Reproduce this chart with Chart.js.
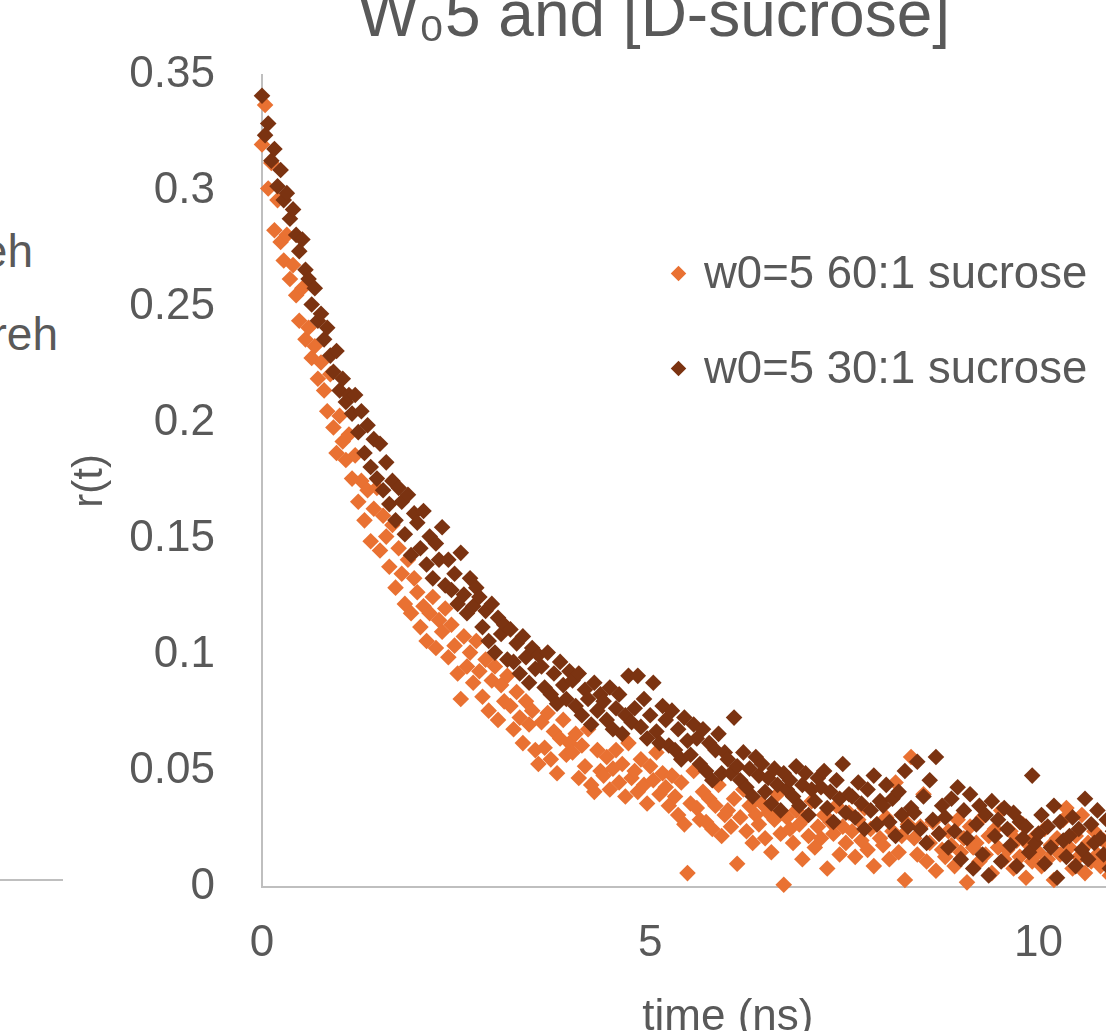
<!DOCTYPE html>
<html>
<head>
<meta charset="utf-8">
<title>W05 and [D-sucrose]</title>
<script src="https://cdn.jsdelivr.net/npm/chart.js@4/dist/chart.umd.min.js"></script>
<style>
    html, body { margin: 0; padding: 0; overflow: hidden; background: #fff; }
    #stage { position: relative; width: 1106px; height: 1031px; overflow: hidden; }
    #chartBox { position: absolute; left: 0; top: -40px; width: 1202px; height: 1110px; }
    .side { position: absolute; font: 46px "Liberation Sans", Arial, sans-serif; line-height: 46px; color: #595959; text-align: right; white-space: nowrap; }
    .sideAxis { position: absolute; left: 0; top: 879px; width: 63px; height: 2px; background: #BFBFBF; }
    #legend { position: absolute; left: 673px; top: 247px; font: 45.5px "Liberation Sans", Arial, sans-serif; color: #595959; }
    #legend .item { display: flex; align-items: center; height: 52px; margin-bottom: 43px; white-space: nowrap; }
    #legend .mark { width: 11px; height: 11px; transform: rotate(45deg); margin-right: 20px; }
</style>
</head>
<body>
<div id="stage">
    <!-- bits of the neighbouring chart that show at the left edge -->
    <div class="side" style="left:-200px; width:233px; top:228px;">eh</div>
    <div class="side" style="left:-200px; width:258px; top:311px;">reh</div>
    <div class="sideAxis"></div>

    <div id="chartBox"><canvas id="chart"></canvas></div>
    <div id="legend"></div>
</div>

<script>
const seriesLabels = ["w0=5 60:1 sucrose", "w0=5 30:1 sucrose"];
const seriesColors = ["#E97132", "#7B3311"];
const timeStep = 0.04; // ns between samples

// r(t), w0=5 60:1 sucrose
const r60 = [
    0.320, 0.337, 0.301, 0.312, 0.283, 0.296, 0.278, 0.270, 0.281, 0.262,
    0.268, 0.255, 0.244, 0.258, 0.236, 0.241, 0.228, 0.233, 0.219, 0.226,
    0.214, 0.205, 0.221, 0.198, 0.187, 0.203, 0.192, 0.184, 0.195, 0.176,
    0.186, 0.166, 0.175, 0.158, 0.171, 0.149, 0.163, 0.172, 0.145, 0.160,
    0.151, 0.138, 0.156, 0.129, 0.146, 0.135, 0.122, 0.141, 0.118, 0.133,
    0.127, 0.112, 0.121, 0.106, 0.118, 0.125, 0.103, 0.115, 0.110, 0.120,
    0.099, 0.113, 0.104, 0.092, 0.081, 0.108, 0.095, 0.101, 0.088, 0.106,
    0.093, 0.082, 0.098, 0.076, 0.089, 0.095, 0.072, 0.087, 0.080, 0.091,
    0.078, 0.068, 0.084, 0.073, 0.062, 0.080, 0.070, 0.076, 0.059, 0.053,
    0.071, 0.060, 0.075, 0.055, 0.067, 0.049, 0.064, 0.072, 0.057, 0.062,
    0.058, 0.066, 0.047, 0.061, 0.052, 0.068, 0.044, 0.041, 0.059, 0.050,
    0.048, 0.056, 0.042, 0.051, 0.059, 0.045, 0.053, 0.039, 0.062, 0.047,
    0.050, 0.041, 0.055, 0.044, 0.036, 0.052, 0.046, 0.058, 0.040, 0.049,
    0.043, 0.035, 0.048, 0.039, 0.031, 0.045, 0.027, 0.006, 0.036, 0.050,
    0.034, 0.029, 0.041, 0.028, 0.038, 0.025, 0.035, 0.044, 0.022, 0.031,
    0.033, 0.026, 0.038, 0.010, 0.030, 0.042, 0.024, 0.035, 0.019, 0.031,
    0.027, 0.036, 0.021, 0.032, 0.015, 0.029, 0.040, 0.023, 0.001, 0.030,
    0.025, 0.019, 0.033, 0.027, 0.012, 0.030, 0.022, 0.037, 0.017, 0.026,
    0.021, 0.031, 0.008, 0.028, 0.023, 0.035, 0.014, 0.026, 0.019, 0.032,
    0.024, 0.013, 0.029, 0.020, 0.034, 0.016, 0.025, 0.009, 0.027, 0.021,
    0.018, 0.030, 0.012, 0.024, 0.045, 0.015, 0.022, 0.003, 0.027, 0.056,
    0.021, 0.014, 0.026, 0.040, 0.011, 0.019, 0.028, 0.007, 0.023, 0.016,
    0.013, 0.024, 0.018, 0.009, 0.029, 0.015, 0.021, 0.002, 0.026, 0.017,
    0.019, 0.011, 0.030, 0.014, 0.022, 0.006, 0.025, 0.017, 0.033, 0.012,
    0.016, 0.024, 0.008, 0.020, 0.013, 0.027, 0.004, 0.018, 0.011, 0.022,
    0.015, 0.009, 0.025, 0.012, 0.018, 0.003, 0.021, 0.014, 0.029, 0.034,
    0.017, 0.008, 0.022, 0.013, 0.031, 0.006, 0.019, 0.011, 0.024, 0.014,
    0.009, 0.020, 0.013, 0.005, 0.017, 0.011, 0.023, 0.008, 0.015, 0.012
];

// r(t), w0=5 30:1 sucrose
const r30 = [
    0.341, 0.324, 0.329, 0.313, 0.318, 0.302, 0.309, 0.296, 0.299, 0.288,
    0.292, 0.281, 0.274, 0.279, 0.266, 0.262, 0.251, 0.258, 0.244, 0.247,
    0.236, 0.241, 0.229, 0.222, 0.231, 0.214, 0.219, 0.209, 0.212, 0.204,
    0.212, 0.196, 0.205, 0.187, 0.199, 0.181, 0.193, 0.176, 0.191, 0.171,
    0.183, 0.165, 0.175, 0.158, 0.172, 0.166, 0.152, 0.169, 0.143, 0.161,
    0.157, 0.146, 0.162, 0.139, 0.151, 0.133, 0.148, 0.141, 0.155, 0.130,
    0.141, 0.128, 0.135, 0.122, 0.144, 0.126, 0.118, 0.133, 0.121, 0.129,
    0.125, 0.112, 0.119, 0.106, 0.122, 0.101, 0.116, 0.109, 0.113, 0.098,
    0.111, 0.097, 0.105, 0.092, 0.108, 0.099, 0.088, 0.103, 0.094, 0.100,
    0.095, 0.086, 0.101, 0.083, 0.092, 0.079, 0.097, 0.087, 0.081, 0.093,
    0.089, 0.078, 0.092, 0.074, 0.085, 0.081, 0.070, 0.088, 0.076, 0.083,
    0.080, 0.072, 0.086, 0.068, 0.077, 0.083, 0.066, 0.074, 0.091, 0.071,
    0.077, 0.091, 0.069, 0.081, 0.064, 0.074, 0.088, 0.067, 0.062, 0.078,
    0.072, 0.061, 0.076, 0.059, 0.068, 0.055, 0.073, 0.063, 0.057, 0.070,
    0.064, 0.053, 0.068, 0.050, 0.062, 0.046, 0.059, 0.066, 0.049, 0.058,
    0.055, 0.049, 0.073, 0.052, 0.046, 0.058, 0.043, 0.051, 0.039, 0.056,
    0.048, 0.053, 0.041, 0.047, 0.036, 0.051, 0.044, 0.033, 0.049, 0.042,
    0.046, 0.039, 0.052, 0.035, 0.044, 0.049, 0.031, 0.042, 0.037, 0.047,
    0.043, 0.050, 0.034, 0.041, 0.028, 0.046, 0.038, 0.053, 0.032, 0.040,
    0.039, 0.030, 0.045, 0.036, 0.025, 0.042, 0.033, 0.048, 0.027, 0.037,
    0.035, 0.044, 0.028, 0.038, 0.022, 0.041, 0.031, 0.050, 0.026, 0.034,
    0.032, 0.054, 0.025, 0.039, 0.019, 0.046, 0.029, 0.056, 0.023, 0.035,
    0.030, 0.017, 0.038, 0.024, 0.043, 0.012, 0.033, 0.021, 0.040, 0.008,
    0.027, 0.035, 0.014, 0.031, 0.005, 0.037, 0.022, 0.029, 0.011, 0.034,
    0.025, 0.018, 0.032, 0.009, 0.028, 0.021, 0.026, 0.015, 0.048, 0.019,
    0.023, 0.031, 0.010, 0.026, 0.017, 0.035, 0.004, 0.028, 0.020, 0.013,
    0.022, 0.030, 0.009, 0.025, 0.016, 0.038, 0.012, 0.027, 0.019, 0.033,
    0.021, 0.014, 0.029, 0.008, 0.024, 0.018, 0.031, 0.011, 0.026, 0.016
];

const xMax = 12;
const xTicks = [0, 5, 10];
const yMax = 0.35;
const yStep = 0.05;

const times = r60.map((_, i) => +(i * timeStep).toFixed(2));
const toPoints = values => values.map((v, i) => ({ x: times[i], y: v }));

const textColor = "#595959";
const axisColor = "#BFBFBF";
const fontFamily = "'Liberation Sans', Arial, sans-serif";

const chart = new Chart(document.getElementById("chart"), {
    type: "scatter",
    data: {
        datasets: [r60, r30].map((values, i) => ({
            label: seriesLabels[i],
            data: toPoints(values),
            pointStyle: "rectRot",
            pointRadius: 8.3,
            pointHoverRadius: 8.3,
            borderWidth: 0,
            backgroundColor: seriesColors[i],
            borderColor: seriesColors[i],
            order: i === 0 ? 1 : 0,   // 30:1 sits on top, as in the source
            clip: false
        }))
    },
    options: {
        responsive: true,
        maintainAspectRatio: false,
        animation: false,
        layout: { padding: { left: 106, right: 0, top: 0, bottom: 0 } },
        plugins: {
            legend: { display: false },
            tooltip: { enabled: false },
            title: {
                display: true,
                text: "W\u20805 and [D-sucrose]",
                color: textColor,
                font: { family: fontFamily, size: 64, weight: "normal" },
                padding: { top: 20, bottom: 18 }
            }
        },
        scales: {
            x: {
                type: "linear",
                min: 0,
                max: xMax,
                afterBuildTicks: axis => {
                    axis.ticks = xTicks.map(v => ({ value: v }));
                },
                afterFit: scale => { scale.height = 183; },
                grid: { display: false, drawTicks: false },
                border: { display: true, color: axisColor, width: 2 },
                ticks: {
                    color: textColor,
                    padding: 30,
                    font: { family: fontFamily, size: 44 }
                },
                title: {
                    display: true,
                    text: "time (ns)",
                    color: textColor,
                    font: { family: fontFamily, size: 44 },
                    padding: { top: 0, bottom: 26 }
                }
            },
            y: {
                min: 0,
                max: yMax,
                afterFit: scale => { scale.width = 156; },
                grid: { display: false, drawTicks: false },
                border: { display: true, color: axisColor, width: 2 },
                ticks: {
                    stepSize: yStep,
                    color: textColor,
                    padding: 47,
                    font: { family: fontFamily, size: 44 },
                    callback: v => String(+v.toFixed(2))
                },
                title: {
                    display: true,
                    text: "r(t)",
                    color: textColor,
                    font: { family: fontFamily, size: 42 },
                    // pulls the title out to the left of the padded box
                    padding: { top: -41, bottom: 0 }
                }
            }
        }
    }
});

// legend laid over the plot, like the Excel one
const legendBox = document.getElementById("legend");
chart.data.datasets.forEach(ds => {
    const item = document.createElement("div");
    item.className = "item";
    const mark = document.createElement("span");
    mark.className = "mark";
    mark.style.background = ds.backgroundColor;
    const label = document.createElement("span");
    label.textContent = ds.label;
    item.appendChild(mark);
    item.appendChild(label);
    legendBox.appendChild(item);
});
</script>
</body>
</html>
